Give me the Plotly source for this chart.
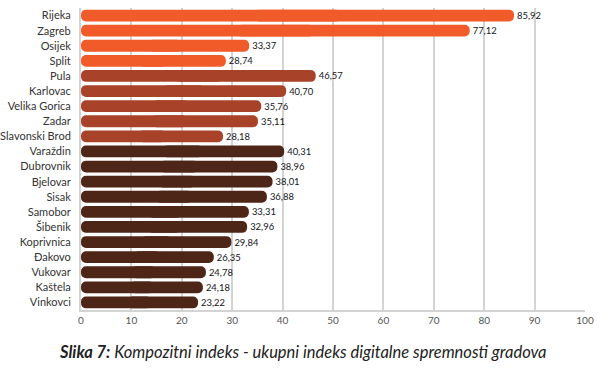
import plotly.graph_objects as go

cities = ["Rijeka", "Zagreb", "Osijek", "Split", "Pula", "Karlovac", "Velika Gorica", "Zadar",
          "Slavonski Brod", "Varaždin", "Dubrovnik", "Bjelovar", "Sisak", "Samobor", "Šibenik",
          "Koprivnica", "Đakovo", "Vukovar", "Kaštela", "Vinkovci"]
values = [85.92, 77.12, 33.37, 28.74, 46.57, 40.70, 35.76, 35.11, 28.18, 40.31, 38.96, 38.01,
          36.88, 33.31, 32.96, 29.84, 26.35, 24.78, 24.18, 23.22]
groups = [0, 0, 0, 0, 1, 1, 1, 1, 1, 2, 2, 2, 2, 2, 2, 2, 2, 2, 2, 2]
group_colors = ["#F15A29", "#A8432A", "#4E2618"]
x_ticks = [0, 10, 20, 30, 40, 50, 60, 70, 80, 90, 100]

colors = [group_colors[g] for g in groups]
labels = [f"{v:.2f}".replace(".", ",") for v in values]

fig = go.Figure()
# right part (rounded at value end), spans 0.4v .. v
fig.add_trace(go.Bar(
    y=cities, x=[v * 0.6 for v in values], base=[v * 0.4 for v in values], orientation="h",
    marker=dict(color=colors, line=dict(width=0)),
    text=labels, textposition="outside", cliponaxis=False,
    textfont=dict(family="Lato", size=12, color="#141420"),
    hoverinfo="skip", showlegend=False,
))
# left part (rounded at zero end), spans 0 .. 0.6v
fig.add_trace(go.Bar(
    y=cities, x=[-v * 0.6 for v in values], base=[v * 0.6 for v in values], orientation="h",
    marker=dict(color=colors, line=dict(width=0)),
    hoverinfo="skip", showlegend=False,
))

fig.update_layout(
    width=614, height=368,
    margin=dict(l=81, r=29, t=8, b=58, autoexpand=False),
    barmode="overlay", bargap=0.22, barcornerradius="50%",
    plot_bgcolor="white", paper_bgcolor="white",
    font=dict(family="Lato", size=12, color="#333333"),
    xaxis=dict(range=[0, 100], tickvals=x_ticks, showgrid=True, gridcolor="#D3D3D3", gridwidth=2,
               showline=True, linecolor="#D3D3D3", linewidth=2, zeroline=False, automargin=False,
               tickfont=dict(family="Lato", size=10, color="#555555"), ticks="", ticklen=0),
    yaxis=dict(autorange="reversed", showgrid=False, showline=True, linecolor="#D3D3D3", linewidth=2,
               automargin=False, ticklabelstandoff=6,
               tickfont=dict(family="Lato", size=11, color="#333333"), ticks="", ticklen=0),
)
fig.add_annotation(
    text="<b><i>Slika 7:</i></b><i> Kompozitni indeks - ukupni indeks digitalne spremnosti gradova</i>",
    xref="paper", yref="paper", x=0.44, y=-0.139, xanchor="center", yanchor="middle",
    showarrow=False, font=dict(family="Lato", size=16.5, color="#222222"),
)
fig.write_html("out.html", config={"displayModeBar": False},
               post_script="document.body.style.margin='0';document.body.style.padding='0';")
